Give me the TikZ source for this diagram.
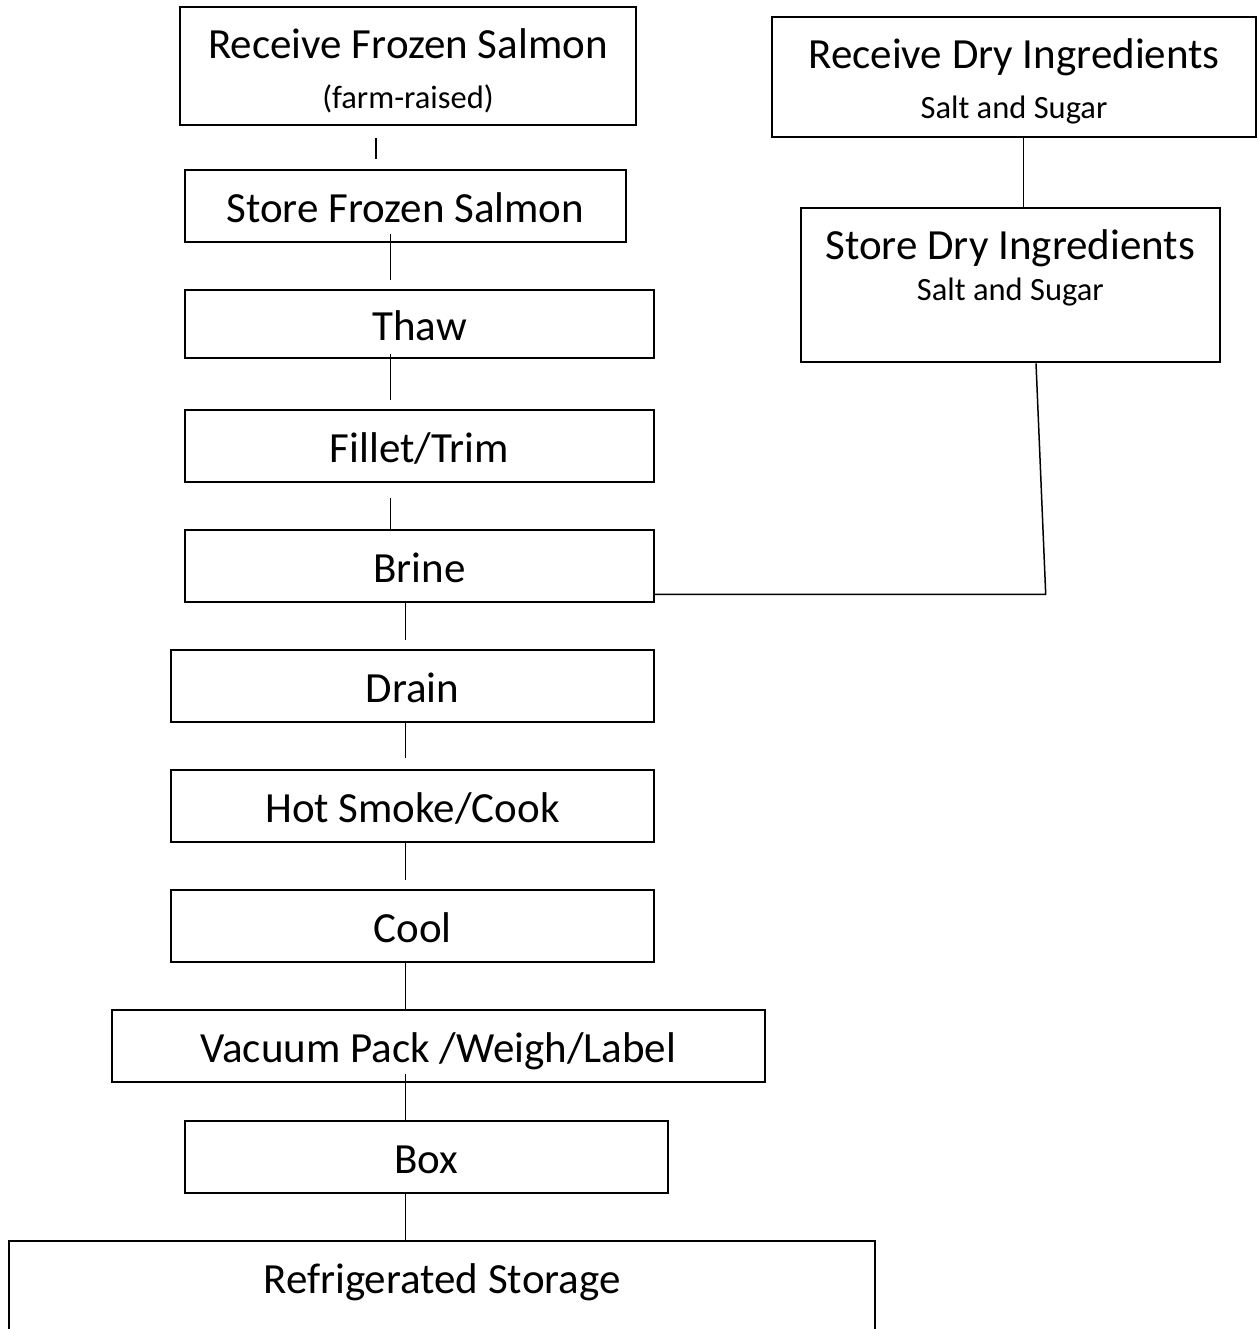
\documentclass[tikz,border=0pt]{standalone}
\usepackage{fontspec}
\setmainfont{Carlito}
\usepackage{tikz}
\usetikzlibrary{positioning}
\tikzset{
	every node/.style={
		font=\fontsize{43}{50}\selectfont
	},
	stepbox/.style={
		shape=rectangle,
		draw,
		line width=2pt,
		inner sep=0pt,
		text height=37.8pt,
		text depth=4.2pt,
		text centered
	},
	title/.style={
		anchor=base,
		inner sep=0pt,
		font=\fontsize{43}{50}\selectfont
	},
	note/.style={
		anchor=base,
		inner sep=0pt,
		font=\fontsize{32.5}{38}\selectfont
	},
	link/.style={
		line width=1.5pt
	}
}

\begin{document}
\begin{tikzpicture}[x=1pt,y=-1pt]
  \useasboundingbox (0,0) rectangle (1257,1329);
  \clip (0,0) rectangle (1257,1329);

  % salmon line
  \node[stepbox, minimum width=456pt, minimum height=118.6pt] (rfs) at (408,66) {};
  \node[title] (rfstext) at (408,58.3) {Receive Frozen Salmon};
  \node[note]  (rfsnote) at (408,108.3) {(farm-raised)};
  \node[stepbox, minimum width=440.7pt, minimum height=71.7pt] (sfs) at (405.3,205.8) {Store Frozen Salmon};
  \node[stepbox, minimum width=469pt, minimum height=67.7pt] (thaw) at (419.5,323.8) {Thaw};
  \node[stepbox, minimum width=469pt, minimum height=72pt] (fillet) at (419.5,446) {Fillet/Trim};
  \node[stepbox, minimum width=469pt, minimum height=71.7pt] (brine) at (419.5,565.8) {Brine};
  \node[stepbox, minimum width=483pt, minimum height=72pt] (drain) at (412.5,686) {Drain};
  \node[stepbox, minimum width=483pt, minimum height=71.7pt] (smoke) at (412.5,805.8) {Hot Smoke/Cook};
  \node[stepbox, minimum width=483pt, minimum height=72pt] (cool) at (412.5,926) {Cool};
  \node[stepbox, minimum width=653.3pt, minimum height=71.7pt] (vacuum) at (438.3,1045.8) {Vacuum Pack /Weigh/Label};
  \node[stepbox, minimum width=483pt, minimum height=71.7pt] (box) at (426.5,1156.8) {Box};
  \node[stepbox, minimum width=866pt, minimum height=200pt] (refrig) at (442,1340.7) {};
  \node[title] (refrigtext) at (442,1293.3) {Refrigerated Storage};

  % dry ingredients
  \node[stepbox, minimum width=484.3pt, minimum height=120pt] (rdi) at (1013.8,76.7) {};
  \node[title] (rditext) at (1014,68.3) {Receive Dry Ingredients};
  \node[note]  (rdinote) at (1014,118.3) {Salt and Sugar};
  \node[stepbox, minimum width=419.3pt, minimum height=154pt] (sdi) at (1010.3,285.3) {};
  \node[title] (sditext) at (1010.3,259.3) {Store Dry Ingredients};
  \node[note]  (sdinote) at (1010.3,300.7) {Salt and Sugar};
  \coordinate (bend) at (1045.7,594.3);

  \draw[link, shorten <=11.7pt, shorten >=10pt] ([xshift=-32pt]rfs.south) -- ([xshift=-29.3pt]sfs.north);
  \draw[link, shorten <=-8.7pt, shorten >=9.3pt] ([xshift=-14.6pt]sfs.south) -- ([xshift=-28.8pt]thaw.north);
  \draw[link, shorten <=-4.7pt, shorten >=9.3pt] ([xshift=-28.8pt]thaw.south) -- ([xshift=-28.8pt]fillet.north);
  \draw[link, shorten <=15pt] ([xshift=-28.8pt]fillet.south) -- ([xshift=-28.8pt]brine.north);
  \draw[link, shorten >=9.3pt] ([xshift=-14.2pt]brine.south) -- ([xshift=-7.2pt]drain.north);
  \draw[link, shorten >=11pt] ([xshift=-7.2pt]drain.south) -- ([xshift=-7.2pt]smoke.north);
  \draw[link, shorten >=9.3pt] ([xshift=-7.2pt]smoke.south) -- ([xshift=-7.2pt]cool.north);
  \draw[link] ([xshift=-7.2pt]cool.south) -- ([xshift=-33pt]vacuum.north);
  \draw[link, shorten <=-8.7pt] ([xshift=-33pt]vacuum.south) -- ([xshift=-21.2pt]box.north);
  \draw[link] ([xshift=-21.2pt]box.south) -- ([xshift=-36.7pt]refrig.north);
  \draw[link, shorten <=-1.7pt] ([xshift=9.9pt]rdi.south) -- ([xshift=13.4pt]sdi.north);
  \draw[link] ([xshift=25.7pt]sdi.south) -- (bend) -- (bend -| brine.east);
\end{tikzpicture}
\end{document}
